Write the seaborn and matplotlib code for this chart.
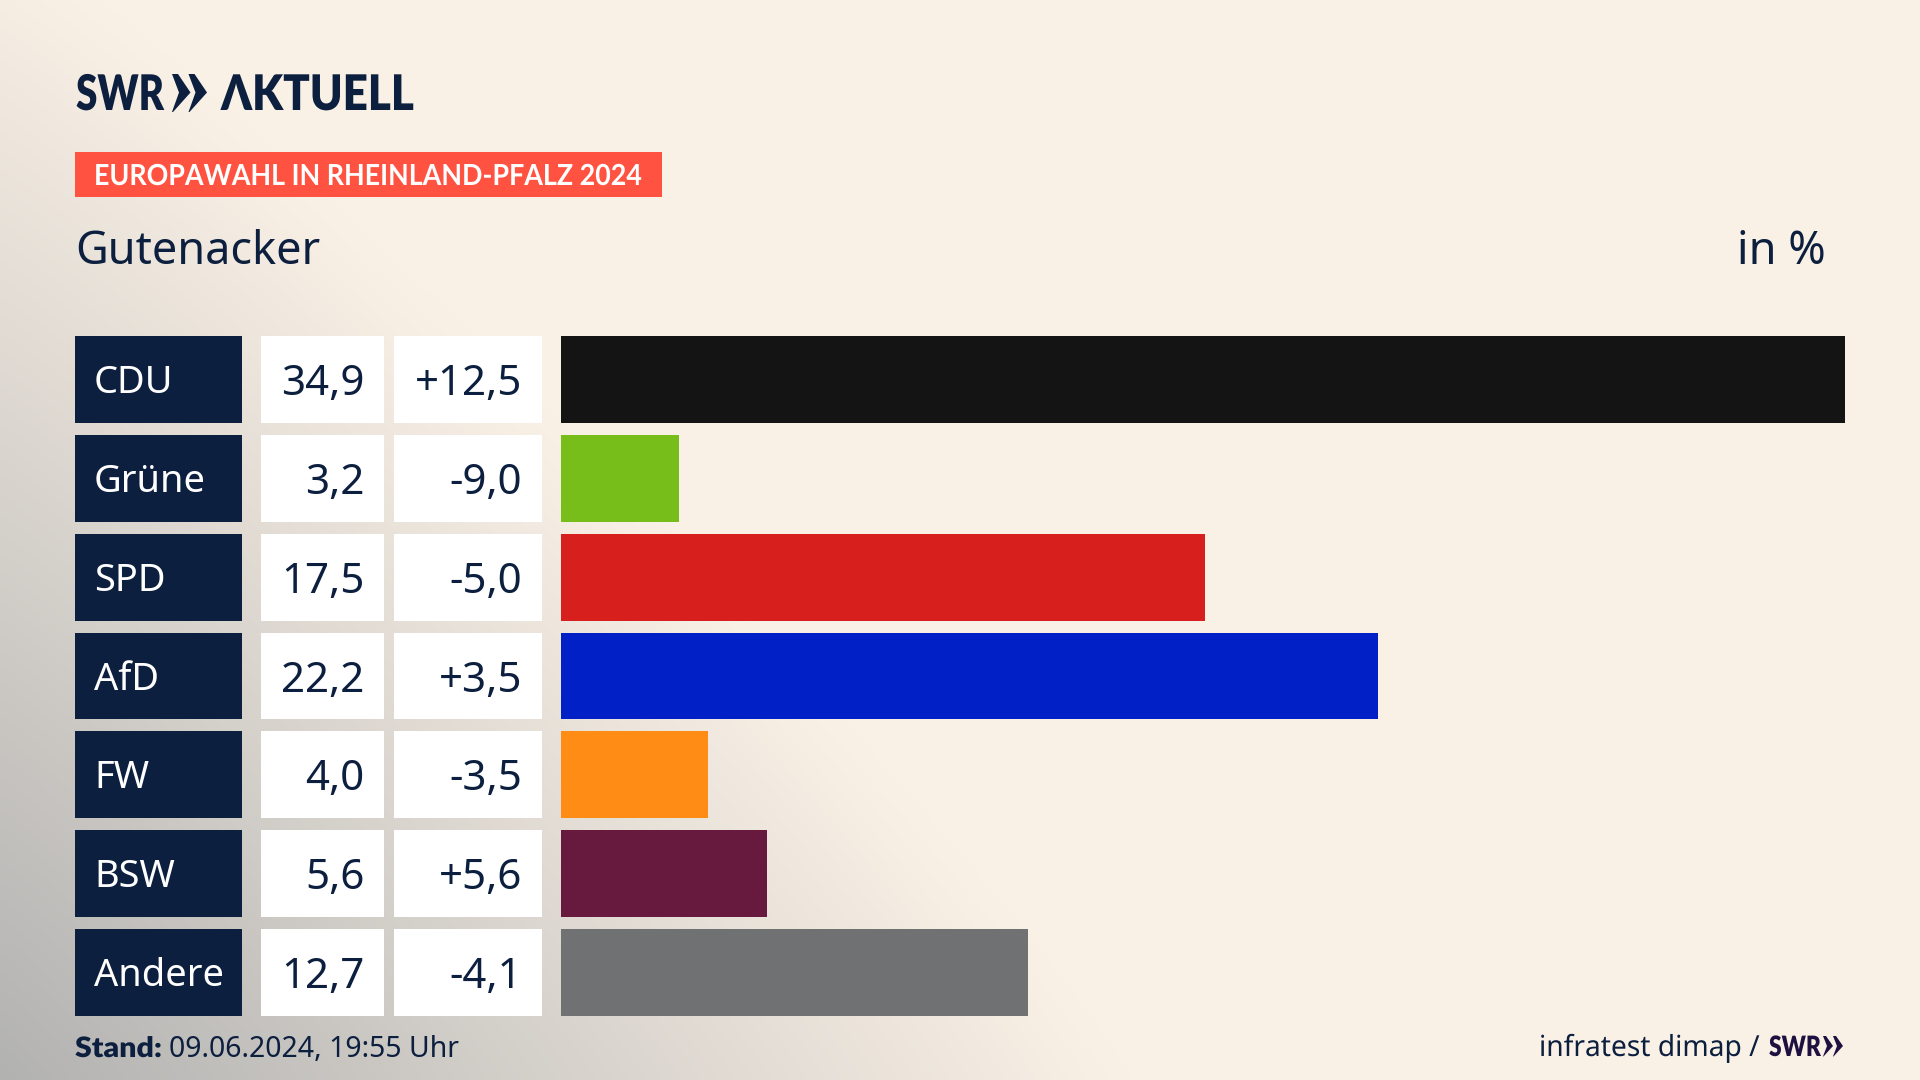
import numpy as np
import pandas as pd
import matplotlib
matplotlib.use("Agg")
import matplotlib.pyplot as plt
import matplotlib.patheffects as pe
from matplotlib.patches import Polygon, Rectangle
from matplotlib.transforms import Affine2D
import seaborn as sns

parties = ["CDU", "Grüne", "SPD", "AfD", "FW", "BSW", "Andere"]
shares = [34.9, 3.2, 17.5, 22.2, 4.0, 5.6, 12.7]
changes = [12.5, -9.0, -5.0, 3.5, -3.5, 5.6, -4.1]
bar_colors = ["#141414", "#78BE1A", "#D7201D", "#0121C7", "#FF8C14", "#681A3E", "#707173"]

NAVY = "#0C1F3F"
PURPLE = "#1E1040"
CREAM = np.array([250, 241, 230]) / 255
GREY = np.array([178, 178, 177]) / 255
W, H = 1920, 1080
ROW_TOP, ROW_BOTTOM = 336, 1016
BODY = "Noto Sans"
BOLD = "Lato"

sns.set_theme(style="white")
plt.rcParams["font.family"] = [BODY, "DejaVu Sans"]

df = pd.DataFrame({"party": parties, "share": shares, "change": changes})


class Squeeze(pe.AbstractPathEffect):
    # Text in x-Richtung stauchen, es gibt keine schmale Schrift auf dem System
    def __init__(self, anchor, factor):
        super().__init__()
        self.anchor = anchor
        self.factor = factor

    def draw_path(self, renderer, gc, tpath, affine, rgbFace=None):
        squeeze = Affine2D().translate(-self.anchor, 0).scale(self.factor, 1).translate(self.anchor, 0)
        renderer.draw_path(gc, tpath, affine + squeeze, rgbFace)


def px(size):
    # Schriftgroesse in Pixeln, Figur laeuft mit 100 dpi
    return size * 0.72


def fmt(v, sign=False):
    s = f"{v:+.1f}" if sign else f"{v:.1f}"
    return s.replace(".", ",")


fig = plt.figure(figsize=(W / 100, H / 100), dpi=100)

# Hintergrund mit grauem Verlauf von links unten
bg = fig.add_axes([0, 0, 1, 1], zorder=0)
xx, yy = np.meshgrid(np.arange(0, W, 4), np.arange(0, H, 4))
dist = ((xx / 1130) ** 1.1 + ((H - yy) / 1150) ** 1.1) ** (1 / 1.1)
dark = np.clip(1 - dist, 0, 1)
img = CREAM + (GREY - CREAM) * dark[..., None]
bg.imshow(img, extent=(0, W, H, 0), aspect="auto", interpolation="bilinear")
bg.set_xlim(0, W)
bg.set_ylim(H, 0)
bg.axis("off")


def fit_text(x, y, s, width, **kw):
    # linksbuendiger Text, auf die Breite aus dem Original gestaucht
    t = bg.text(x, y, s, ha="left", va="baseline", **kw)
    real = t.get_window_extent(fig.canvas.get_renderer()).width
    t.set_path_effects([Squeeze(x, width / real)])
    return t


def column_ax(left, right):
    ax = fig.add_axes([left / W, 1 - ROW_BOTTOM / H, (right - left) / W, (ROW_BOTTOM - ROW_TOP) / H], zorder=1)
    ax.patch.set_alpha(0)
    return ax


def finish(ax, xmax):
    ax.set_xlim(0, xmax)
    ax.set_ylim(6.44, -0.44)
    ax.axis("off")


# Balken
ax = column_ax(561, 1845)
sns.barplot(data=df, x="share", y="party", hue="party", palette=bar_colors, width=0.88,
            dodge=False, legend=False, saturation=1, linewidth=0, ax=ax)
finish(ax, 34.9)

# Tabellenspalten links
df["full"] = 1
name_ax = column_ax(75, 242)
sns.barplot(data=df, x="full", y="party", color=NAVY, width=0.88, saturation=1, linewidth=0, ax=name_ax)
finish(name_ax, 1)
share_ax = column_ax(261, 384)
sns.barplot(data=df, x="full", y="party", color="white", width=0.88, saturation=1, linewidth=0, ax=share_ax)
finish(share_ax, 1)
change_ax = column_ax(394, 542)
sns.barplot(data=df, x="full", y="party", color="white", width=0.88, saturation=1, linewidth=0, ax=change_ax)
finish(change_ax, 1)

for i, row in df.iterrows():
    name_ax.text(19 / 167, i - 0.01, row["party"], color="white", fontsize=px(38), ha="left", va="center_baseline")
    share_ax.text(103.5 / 123, i - 0.005, fmt(row["share"]), color=NAVY, fontsize=px(42), ha="right", va="center_baseline")
    change_ax.text(128 / 148, i - 0.005, fmt(row["change"], True), color=NAVY, fontsize=px(42), ha="right", va="center_baseline")

# Logo
fit_text(76, 110, "SWR", 88, family=BOLD, weight="heavy", fontsize=px(49), color=NAVY)
fit_text(221, 110, "ΛKTUELL", 193, family=BOLD, weight="heavy", fontsize=px(49), color=NAVY)
for x0 in (172, 188.5):
    bg.add_patch(Polygon([(x0, 74), (x0 + 6, 74), (x0 + 18.5, 92.5), (x0 + 1, 112), (x0, 112), (x0 + 7, 92.5)], color=NAVY, lw=0))

# Kopfzeile
bg.add_patch(Rectangle((75, 152), 587, 45, color="#FF5240", lw=0))
fit_text(94, 185, "EUROPAWAHL IN RHEINLAND-PFALZ 2024", 549, family=BOLD, weight="bold", fontsize=px(29), color="white")
bg.text(75, 264.5, "Gutenacker", fontsize=px(45), color=NAVY, ha="left", va="baseline")
bg.text(1826, 264.5, "in %", fontsize=px(45), color=NAVY, ha="right", va="baseline")

# Fusszeile
fit_text(75, 1057, "Stand:", 87, family=BOLD, weight="heavy", fontsize=px(28), color=NAVY)
bg.text(169, 1057, "09.06.2024, 19:55 Uhr", fontsize=px(28.4), color=NAVY, ha="left", va="baseline")
fit_text(1539, 1056, "infratest dimap /", 221, fontsize=px(29), color=NAVY)
fit_text(1769, 1056, "SWR", 52, family=BOLD, weight="heavy", fontsize=px(28), color=PURPLE)
for x0 in (1823, 1833):
    bg.add_patch(Polygon([(x0, 1036), (x0 + 3, 1036), (x0 + 10, 1046), (x0 + 0.5, 1056.5), (x0, 1056.5), (x0 + 4, 1046)], color=PURPLE, lw=0))

fig.savefig("out.png", dpi=100)
